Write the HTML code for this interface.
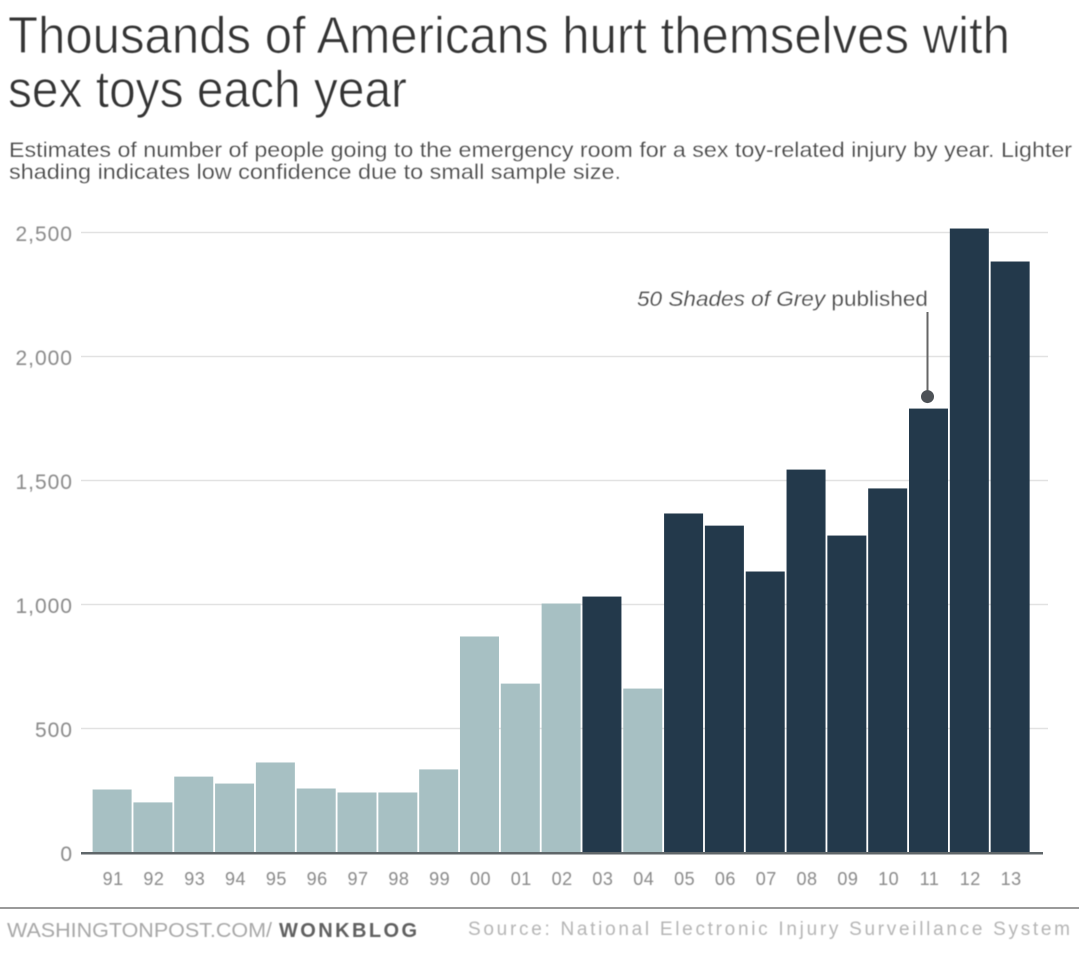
<!DOCTYPE html>
<html lang="en">
<head>
<meta charset="utf-8">
<title>Thousands of Americans hurt themselves with sex toys each year</title>
<style>
html,body{margin:0;padding:0;background:#fff;}
body{width:1079px;height:955px;overflow:hidden;}
svg{display:block;}
text{font-family:"Liberation Sans",Arial,sans-serif;}
.soft{filter:blur(0.5px);}
.thin{stroke:#fff;stroke-width:0.85px;}
.thinner{stroke:#fff;stroke-width:0.25px;}
</style>
</head>
<body>
<svg id="chart" width="1079" height="955" viewBox="0 0 1079 955" xmlns="http://www.w3.org/2000/svg">
  <g class="soft">
    <text class="thin" x="8" y="53" font-size="52" fill="#333" textLength="1002" lengthAdjust="spacingAndGlyphs">Thousands of Americans hurt themselves with</text>
    <text class="thin" x="8" y="107" font-size="52" fill="#333" textLength="399" lengthAdjust="spacingAndGlyphs">sex toys each year</text>
    <text class="thinner" x="9" y="157" font-size="21" fill="#444" textLength="1063" lengthAdjust="spacingAndGlyphs">Estimates of number of people going to the emergency room for a sex toy-related injury by year. Lighter</text>
    <text class="thinner" x="9" y="179" font-size="21" fill="#444" textLength="612" lengthAdjust="spacingAndGlyphs">shading indicates low confidence due to small sample size.</text>
  </g>
  <g id="grid"></g>
  <g id="ylabels" class="soft"></g>
  <g id="bars"></g>
  <rect x="81" y="852" width="962" height="2.5" fill="#5f6669"></rect>
  <g id="xlabels" class="soft"></g>
  <g>
    <text class="soft thinner" x="637" y="306" font-size="21" fill="#444" textLength="291" lengthAdjust="spacingAndGlyphs"><tspan font-style="italic">50 Shades of Grey</tspan> published</text>
    <line id="annoLine" x1="927.5" x2="927.5" y1="312" stroke="#666" stroke-width="2"></line>
    <circle id="annoDot" cx="927.5" r="6.5" fill="#4d5257"></circle>
  </g>
  <rect x="0" y="907" width="1079" height="2" fill="#9a9a9a"></rect>
  <g class="soft">
    <text x="7" y="937" font-size="20" fill="#a8a8a8" textLength="265" lengthAdjust="spacingAndGlyphs">WASHINGTONPOST.COM/</text>
    <text x="279" y="937" font-size="20" font-weight="bold" fill="#606060" textLength="138" lengthAdjust="spacing">WONKBLOG</text>
    <text x="468" y="935" font-size="19" fill="#b5b5b5" textLength="602" lengthAdjust="spacing">Source: National Electronic Injury Surveillance System</text>
  </g>
</svg>
<script>
const years = ["91","92","93","94","95","96","97","98","99","00","01","02","03","04","05","06","07","08","09","10","11","12","13"];
const injuries = [254,202,306,278,363,258,242,242,335,871,681,1004,1032,661,1367,1318,1133,1544,1278,1468,1790,2516,2383];
const lowConfidence = [1,1,1,1,1,1,1,1,1,1,1,1,0,1,0,0,0,0,0,0,0,0,0];
const yTicks = [0,500,1000,1500,2000,2500];
const yTickLabels = ["0","500","1,000","1,500","2,000","2,500"];
const annotationYear = "11";

const NS = "http://www.w3.org/2000/svg";
const plotBottom = 852.5, plotTop = 232.5, yMax = 2500;
const firstBarLeft = 92.6, barStep = 40.82, barWidth = 39;
function yScale(v){ return plotBottom - (v / yMax) * (plotBottom - plotTop); }
function xScale(i){ return firstBarLeft + i * barStep; }

const gridGroup = document.getElementById("grid");
const yLabelGroup = document.getElementById("ylabels");
yTicks.forEach(function(t, i){
  if (t > 0) {
    const line = document.createElementNS(NS, "line");
    
    
    line.setAttribute("x1", 81);
    line.setAttribute("x2", 1048);
    line.setAttribute("y1", yScale(t));
    line.setAttribute("y2", yScale(t));
    line.setAttribute("stroke", "#e2e2e2");
    line.setAttribute("stroke-width", "1.5");
    gridGroup.appendChild(line);
  }
  const label = document.createElementNS(NS, "text");
  
  
  label.setAttribute("x", 73);
  label.setAttribute("y", yScale(t) + 8.5);
  label.setAttribute("text-anchor", "end");
  label.setAttribute("font-size", "21");
  label.setAttribute("letter-spacing", "1");
  label.setAttribute("fill", "#8a8a8a");
  label.textContent = yTickLabels[i];
  yLabelGroup.appendChild(label);
});

const barGroup = document.getElementById("bars");
const xLabelGroup = document.getElementById("xlabels");
years.forEach(function(year, i){
  const rect = document.createElementNS(NS, "rect");
  
  
  rect.setAttribute("x", xScale(i));
  rect.setAttribute("y", yScale(injuries[i]));
  rect.setAttribute("width", barWidth);
  rect.setAttribute("height", plotBottom - yScale(injuries[i]));
  rect.setAttribute("fill", lowConfidence[i] ? "#a7c0c3" : "#23394b");
  barGroup.appendChild(rect);

  const label = document.createElementNS(NS, "text");
  
  
  label.setAttribute("x", xScale(i) + barWidth / 2 + 1);
  label.setAttribute("y", 885);
  label.setAttribute("text-anchor", "middle");
  label.setAttribute("font-size", "18");
  label.setAttribute("letter-spacing", "0.5");
  label.setAttribute("fill", "#8a8a8a");
  label.textContent = year;
  xLabelGroup.appendChild(label);
});

const annotationValue = injuries[years.indexOf(annotationYear)];
document.getElementById("annoLine").setAttribute("y2", yScale(annotationValue) - 12);
document.getElementById("annoDot").setAttribute("cy", yScale(annotationValue) - 12);
</script>
</body>
</html>
